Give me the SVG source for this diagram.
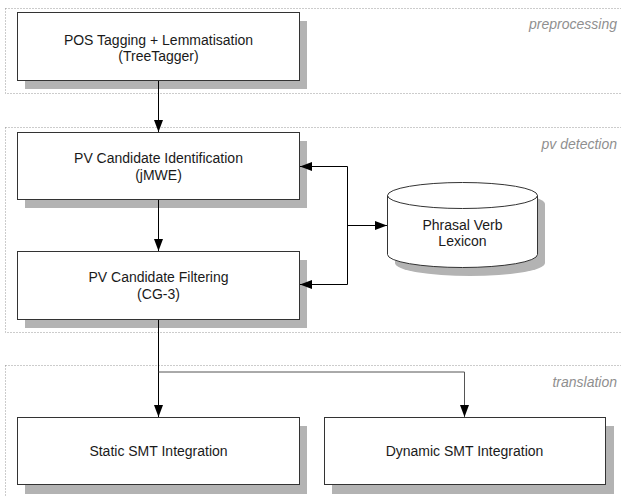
<svg xmlns="http://www.w3.org/2000/svg" width="621" height="496" viewBox="0 0 621 496">
<style>
.grp{fill:none;stroke:#999;stroke-width:1;stroke-dasharray:1 2}
.glab{font-family:"Liberation Sans",Arial,sans-serif;font-size:14px;font-style:italic;fill:#8f8f8f;text-anchor:end}
.box{fill:#fff;stroke:#333;stroke-width:1}
.sh{fill:#b3b3b3}
.t{font-family:"Liberation Sans",Arial,sans-serif;font-size:14px;fill:#1a1a1a;text-anchor:middle}
.c{fill:none;stroke:#000;stroke-width:1}
</style>
<defs>
<marker id="ah" viewBox="0 0 12 10" refX="12" refY="5" markerWidth="12" markerHeight="10" markerUnits="userSpaceOnUse" orient="auto">
<path d="M0,0.5 L12,5 L0,9.5 Z" fill="#000"/>
</marker>
</defs>
<g id="groups">
<rect class="grp" x="5.5" y="8.5" width="640" height="85"/>
<text class="glab" x="617" y="29">preprocessing</text>
<rect class="grp" x="5.5" y="127.5" width="640" height="205"/>
<text class="glab" x="617" y="149">pv detection</text>
<rect class="grp" x="5.5" y="365.5" width="640" height="160"/>
<text class="glab" x="617" y="387">translation</text>
</g>
<g id="pos">
<rect class="sh" x="25" y="21" width="282" height="68"/>
<rect class="box" x="17.5" y="12.5" width="282" height="68"/>
<text class="t" x="158.5" y="44.5">POS Tagging + Lemmatisation</text>
<text class="t" x="158.5" y="60.5">(TreeTagger)</text>
</g>
<g id="ident">
<rect class="sh" x="25" y="141" width="282" height="67"/>
<rect class="box" x="17.5" y="132.5" width="282" height="67"/>
<text class="t" x="158.5" y="163">PV Candidate Identification</text>
<text class="t" x="158.5" y="179.5">(jMWE)</text>
</g>
<g id="filter">
<rect class="sh" x="25" y="260" width="282" height="68"/>
<rect class="box" x="17.5" y="251.5" width="282" height="68"/>
<text class="t" x="158.5" y="282">PV Candidate Filtering</text>
<text class="t" x="158.5" y="298.5">(CG-3)</text>
</g>
<g id="lexicon">
<path class="sh" d="M395,204 A75,13 0 0 1 545,204 L545,263 A75,13 0 0 1 395,263 Z"/>
<path class="box" d="M387.5,195.5 A75,13 0 0 1 537.5,195.5 L537.5,254.5 A75,13 0 0 1 387.5,254.5 Z"/>
<path class="box" style="fill:none" d="M387.5,195.5 A75,13 0 0 0 537.5,195.5"/>
<text class="t" x="462.5" y="230">Phrasal Verb</text>
<text class="t" x="462.5" y="246">Lexicon</text>
</g>
<g id="static">
<rect class="sh" x="25" y="426" width="282" height="68"/>
<rect class="box" x="17.5" y="417.5" width="282" height="67"/>
<text class="t" x="158.5" y="456">Static SMT Integration</text>
</g>
<g id="dynamic">
<rect class="sh" x="332" y="426" width="282" height="68"/>
<rect class="box" x="324.5" y="417.5" width="281" height="67"/>
<text class="t" x="464.5" y="456">Dynamic SMT Integration</text>
</g>
<g id="connectors">
<path class="c" d="M158.5,81 L158.5,132" marker-end="url(#ah)"/>
<path class="c" d="M158.5,200 L158.5,251" marker-end="url(#ah)"/>
<path class="c" d="M347.5,166.5 L300,166.5" marker-end="url(#ah)"/>
<path class="c" d="M347.5,284.5 L300,284.5" marker-end="url(#ah)"/>
<path class="c" d="M347.5,166.5 L347.5,284.5"/>
<path class="c" d="M347.5,225.5 L387,225.5" marker-end="url(#ah)"/>
<path class="c" d="M158.5,320 L158.5,417" marker-end="url(#ah)"/>
<path class="c" style="stroke:#555" d="M158.5,372 L464.5,372 L464.5,417" marker-end="url(#ah)"/>
</g>
</svg>
